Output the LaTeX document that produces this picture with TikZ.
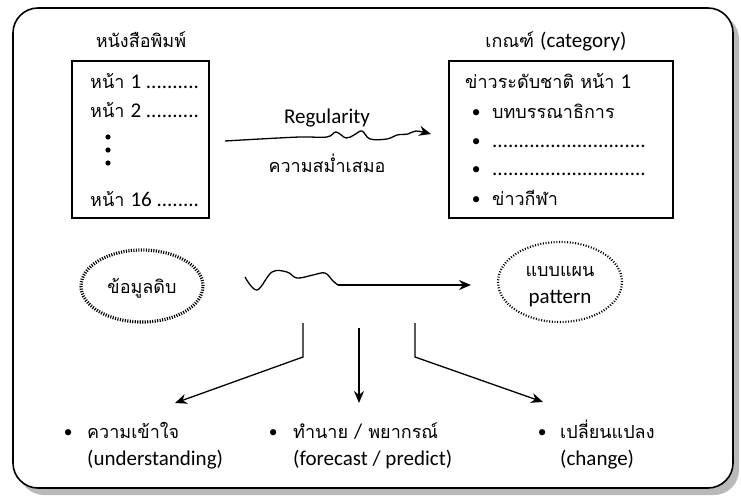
\documentclass[tikz,border=0pt]{standalone}
\usepackage{fontspec}
\setmainfont[Script=Thai]{Loma}
\newfontfamily\latfont{Carlito}
\usetikzlibrary{shapes.geometric,arrows.meta}
\newcommand\bulitem[2]{\makebox[#1][l]{•}#2}
\newcommand\lat[1]{{\latfont\fontsize{21}{24}\selectfont #1}}
\begin{document}
\begin{tikzpicture}[x=1pt,y=-1pt,
  txt/.style={inner sep=0pt,font=\fontsize{18}{21}\selectfont},
  boxframe/.style={draw,line width=1.3pt},
  arr/.style={line width=1.3pt,-{Stealth[length=12pt,width=10pt]}},
  dotell/.style={ellipse,draw,inner sep=0pt},
]
\useasboundingbox (0,0) rectangle (741,498);
% frame with shadow
\fill[gray!55,rounded corners=25pt] (19,14) rectangle (739,495);
\draw[line width=1.6pt,fill=white,rounded corners=25pt] (13,8) rectangle (733,488);

% left box
\node[txt,anchor=base] (t1) at (141,47) {หนังสือพิมพ์};
\draw[boxframe] (72,61) rectangle (209,218);
\node[txt,anchor=base west] (p1) at (90,88) {หน้า \lat{1 ..........}};
\node[txt,anchor=base west] (p2) at (90,117) {หน้า \lat{2 ..........}};
\node[txt,anchor=base west] (p16) at (90,206) {หน้า \lat{16 ........}};
\fill (108,137) circle (2.6pt) (108,150) circle (2.6pt) (108,163) circle (2.6pt);

% right box
\node[txt,anchor=base] (t2) at (556,47) {เกณฑ์ \lat{(category)}};
\draw[boxframe] (449,61) rectangle (673,218);
\node[txt,anchor=base west] (c0) at (465,88) {ข่าวระดับชาติ หน้า \lat{1}};
\node[txt,anchor=base west] (c1) at (472,118) {\bulitem{20pt}{บทบรรณาธิการ}};
\node[txt,anchor=base west] (c2) at (472,147) {\bulitem{20pt}{\lat{.............................}}};
\node[txt,anchor=base west] (c3) at (472,175) {\bulitem{20pt}{\lat{.............................}}};
\node[txt,anchor=base west] (c4) at (472,205) {\bulitem{20pt}{ข่าวกีฬา}};

% regularity arrow
\node[txt,anchor=base] (reg) at (327,123) {\lat{Regularity}};
\node[txt,anchor=base] (regth) at (327,172) {ความสม่ำเสมอ};
\coordinate (rs) at (225,141);
\coordinate (re) at (431,134);
\draw[arr] plot[smooth,tension=0.6] coordinates {(rs) (260,139) (300,137) (327,137) (336,132) (346,138) (354,135) (362,131) (370,139) (387,139) (397,135) (408,134) (416,131) (re)};

% ellipses
\node[dotell,line width=3.2pt,dash pattern=on 1.1pt off 1.4pt,minimum width=122pt,minimum height=72pt] (raw) at (142,286) {};
\node[txt,anchor=base] (rawt) at (142,293) {ข้อมูลดิบ};
\node[dotell,line width=2.2pt,dash pattern=on 1pt off 1.7pt,minimum width=124pt,minimum height=80pt] (pat) at (560,282) {};
\node[txt,anchor=base] (patt1) at (560,276) {แบบแผน};
\node[txt,anchor=base] (patt2) at (560,303) {\lat{pattern}};

% wavy middle arrow
\coordinate (ws) at (245,277);
\coordinate (wm) at (338,285);
\coordinate (we) at (471,285);
\draw[line width=1.3pt] plot[smooth,tension=0.6] coordinates {(ws) (257,290) (272,272) (287,272) (297,278) (313,275) (325,273) (333,281) (wm)};
\draw[arr] (wm) -- (we);

% branches
\coordinate (b1a) at (303,323); \coordinate (b1b) at (303,357); \coordinate (b1c) at (175,403);
\coordinate (b2a) at (359,328); \coordinate (b2c) at (359,403);
\coordinate (b3a) at (415,323); \coordinate (b3b) at (415,357); \coordinate (b3c) at (543,402);
\draw[arr] (b1a) -- (b1b) -- (b1c);
\draw[arr] (b2a) -- (b2c);
\draw[arr] (b3a) -- (b3b) -- (b3c);

% bottom labels
\node[txt,anchor=base west] (u1) at (64,438) {\bulitem{23pt}{ความเข้าใจ}};
\node[txt,anchor=base west] (u2) at (87,465) {\lat{(understanding)}};
\node[txt,anchor=base west] (f1) at (269,438) {\bulitem{24pt}{ทำนาย \lat{/} พยากรณ์}};
\node[txt,anchor=base west] (f2) at (293,465) {\lat{(forecast / predict)}};
\node[txt,anchor=base west] (h1) at (538,438) {\bulitem{22pt}{เปลี่ยนแปลง}};
\node[txt,anchor=base west] (h2) at (560,465) {\lat{(change)}};
\end{tikzpicture}
\end{document}
